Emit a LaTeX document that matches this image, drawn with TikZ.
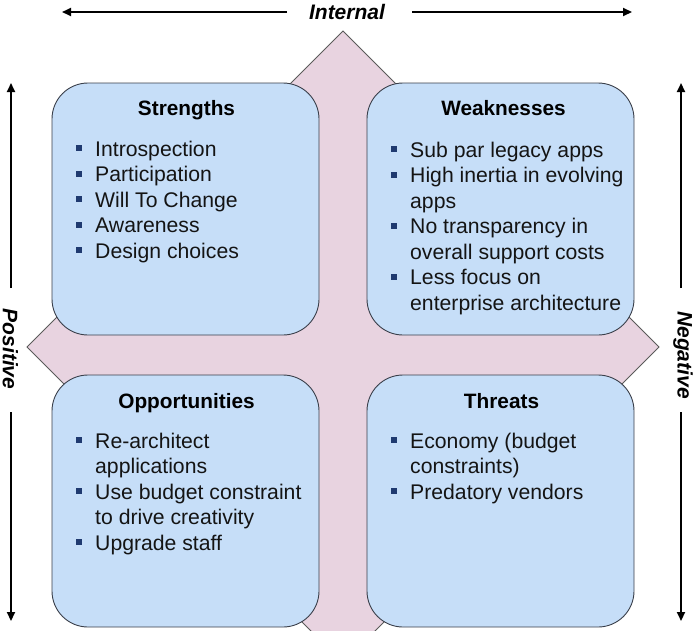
\documentclass[tikz,border=0pt]{standalone}
\usepackage{fontspec}
\setmainfont{Liberation Sans}
\usetikzlibrary{arrows.meta}
\definecolor{boxfill}{HTML}{C6DEF8}
\definecolor{boxline}{HTML}{3A3F4A}
\definecolor{dfill}{HTML}{E8D3E0}
\definecolor{dline}{HTML}{5A5A5A}
\definecolor{bul}{HTML}{1F3A70}
\begin{document}
\begin{tikzpicture}[x=1pt,y=-1pt,
  quad/.style={draw=boxline, line width=0.9pt, fill=boxfill, rounded corners=36pt, minimum width=267pt, minimum height=252pt, inner sep=0pt},
  ttl/.style={font=\fontsize{20.8}{24}\selectfont\bfseries, anchor=base, inner sep=0pt},
  itm/.style={font=\fontsize{21.2}{24}\selectfont, anchor=base west, inner sep=0pt, text=black!92},
  bsq/.style={fill=bul, minimum size=6pt, inner sep=0pt},
  axis/.style={line width=2pt, -{Triangle[length=9pt,width=8pt]}},
  axlab/.style={font=\fontsize{21}{24}\selectfont\bfseries\itshape, inner sep=0pt}]

\useasboundingbox (0,0) rectangle (695,630);
\clip (0,0) rectangle (695,630);

% background diamond
\draw[fill=dfill, draw=dline, line width=0.8pt] (343,31) -- (659,347) -- (343,663) -- (27,347) -- cycle;

% quadrants
\node[quad] (S) at (185.5,209) {};
\node[quad] (W) at (500.5,209) {};
\node[quad] (O) at (185.5,501) {};
\node[quad] (T) at (500.5,501) {};

% titles
\node[ttl] (St) at (186.5,115) {Strengths};
\node[ttl] (Wt) at (503.5,115) {Weaknesses};
\node[ttl] (Ot) at (186.5,408) {Opportunities};
\node[ttl] (Tt) at (501.5,408) {Threats};

% Strengths items
\foreach \y/\t [count=\i] in {156/Introspection, 181.5/Participation, 207/Will To Change, 232.5/Awareness, 258/Design choices}
  {\node[itm] (s\i) at (95,\y) {\t};
   \node[bsq] (sb\i) at (78.5,\y-8) {};}

% Weaknesses items
\foreach \y/\t [count=\i] in {157/Sub par legacy apps, 182.5/High inertia in evolving, 208/apps, 233.5/No transparency in, 259/overall support costs, 284.5/Less focus on, 310/enterprise architecture}
  {\node[itm] (w\i) at (410,\y) {\t};}
\foreach \y [count=\i] in {157,182.5,233.5,284.5}
  {\node[bsq] (wb\i) at (393.5,\y-8) {};}

% Opportunities items
\foreach \y/\t [count=\i] in {448/Re-architect, 473.5/applications, 499/Use budget constraint, 524.5/to drive creativity, 550/Upgrade staff}
  {\node[itm] (o\i) at (95,\y) {\t};}
\foreach \y [count=\i] in {448,499,550}
  {\node[bsq] (ob\i) at (78.5,\y-8) {};}

% Threats items
\foreach \y/\t [count=\i] in {448/Economy (budget, 473.5/constraints), 499/Predatory vendors}
  {\node[itm] (t\i) at (410,\y) {\t};}
\foreach \y [count=\i] in {448,499}
  {\node[bsq] (tb\i) at (393.5,\y-8) {};}

% axis labels
\node[axlab] (int) at (347,12) {Internal};
\node[axlab, rotate=-90] (pos) at (10.5,349) {Positive};
\node[axlab, rotate=-90] (neg) at (683,355) {Negative};

% axis arrows
\coordinate (ta) at (287,12);
\coordinate (tb) at (62,12);
\coordinate (tc) at (412,12);
\coordinate (td) at (632,12);
\draw[axis] (ta) -- (tb);
\draw[axis] (tc) -- (td);

\coordinate (la) at (11,288);
\coordinate (lb) at (11,83);
\coordinate (lc) at (11,412);
\coordinate (ld) at (11,621);
\draw[axis] (la) -- (lb);
\draw[axis] (lc) -- (ld);

\coordinate (ra) at (681,288);
\coordinate (rb) at (681,83);
\coordinate (rc) at (681,412);
\coordinate (rd) at (681,621);
\draw[axis] (ra) -- (rb);
\draw[axis] (rc) -- (rd);
\end{tikzpicture}
\end{document}
